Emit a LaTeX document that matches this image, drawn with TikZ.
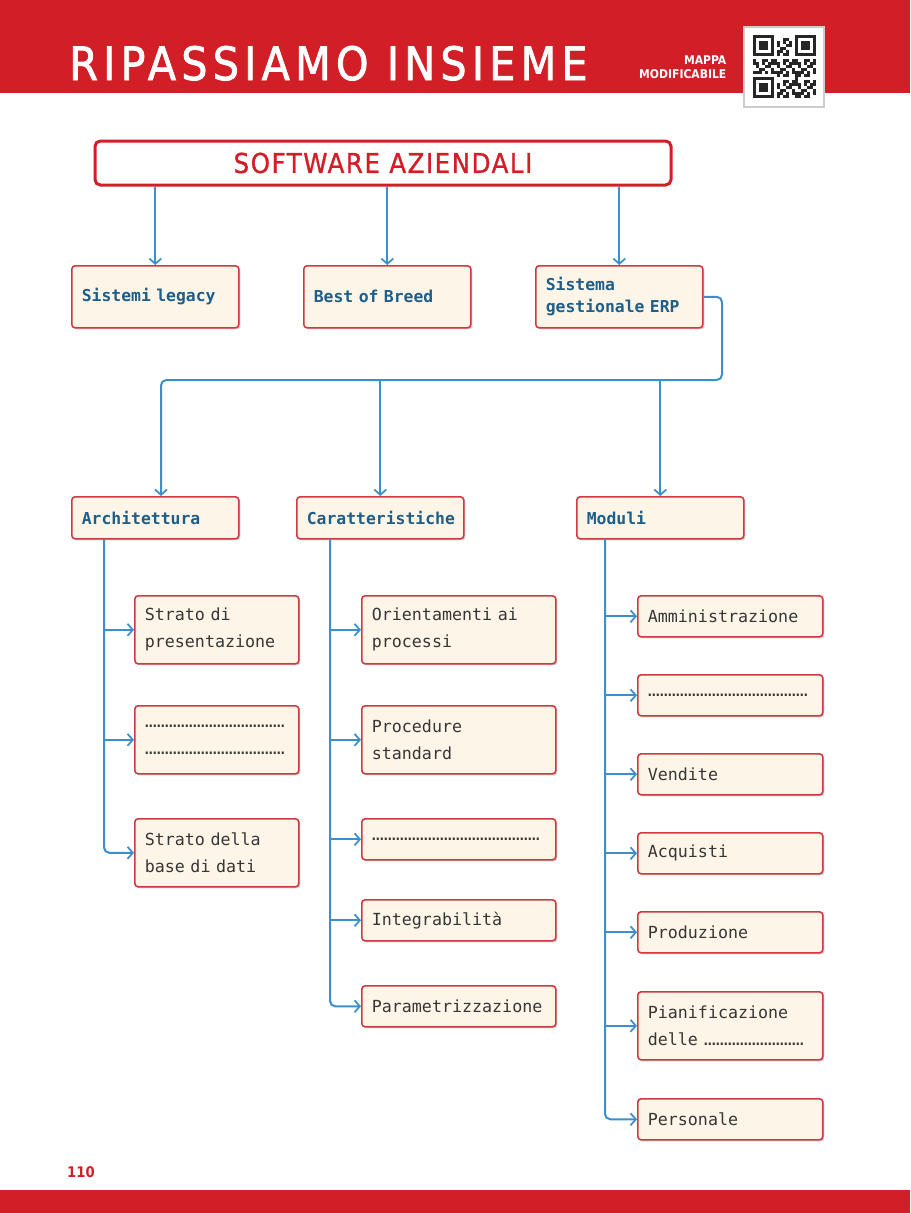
\documentclass[tikz,border=0pt]{standalone}
\usepackage{fontspec}
\setmainfont{DejaVu Sans Mono}
\newfontfamily\headfont[LetterSpace=11.3, FakeBold=1.6]{DejaVu Sans Condensed}
\newfontfamily\boxheadfont[LetterSpace=5.5, FakeBold=1]{DejaVu Sans Condensed}
\newfontfamily\tagfont{DejaVu Sans Condensed}
\usetikzlibrary{positioning,calc,arrows.meta,shadows}

\definecolor{bandred}{HTML}{D21F27}
\definecolor{boxred}{HTML}{CF3A42}
\definecolor{boxfill}{HTML}{FDF5E8}
\definecolor{linkblue}{HTML}{3B8FCC}
\definecolor{labelblue}{HTML}{1F5E88}
\definecolor{bodytext}{HTML}{363636}

\newcommand{\fillin}[1]{\leavevmode\leaders\hbox to 3pt{\hss.\hss}\hskip #1\kern0pt\relax}

\tikzset{
	conn/.style={draw=linkblue, line width=1.5pt, -{Straight Barb[length=4pt,width=9pt,line width=1.3pt]}},
	basebox/.style={draw=boxred, fill=boxfill, line width=1.2pt, rounded corners=2.5pt, anchor=north west, align=left, inner xsep=7.5pt, inner ysep=3pt,
		drop shadow={shadow xshift=1.2pt, shadow yshift=-1.2pt, fill=black, opacity=0.18}},
	topbox/.style={basebox, text width=110.25pt, minimum height=46.5pt, text=labelblue, font=\bfseries\fontsize{12.3}{16.5}\selectfont},
	groupbox/.style={basebox, text width=110.25pt, minimum height=31.5pt, text=labelblue, font=\bfseries\fontsize{12.3}{16.5}\selectfont},
	leafbox/.style={basebox, minimum height=30.75pt, text=bodytext, font=\fontsize{12.5}{20.25}\selectfont},
	archleaf/.style={leafbox, text width=108pt},
	caratleaf/.style={leafbox, text width=130.5pt},
	modleaf/.style={leafbox, text width=123.75pt},
	tall/.style={minimum height=51pt},
}

\begin{document}
\begin{tikzpicture}[x=0.75pt, y=-0.75pt]
	\useasboundingbox (0,0) rectangle (910,1213);
	\fill[white] (0,0) rectangle (910,1213);
	\fill[bandred] (0,0) rectangle (910,93);
	\fill[bandred] (0,1190) rectangle (910,1213);

	\node [text=white, anchor=base west, inner sep=0pt, font=\headfont\fontsize{34.5}{34.5}\selectfont] (title) at (69,80) {RIPASSIAMO INSIEME};
	\node [text=white, anchor=east, align=right, font=\tagfont\bfseries\fontsize{9}{10.5}\selectfont] (tag) at (731,67) {MAPPA\\MODIFICABILE};
	\node [draw=black!20, line width=1pt, fill=white, minimum size=60pt, inner sep=0pt] (qr) at (784,67) {};
	\foreach \i in {0,...,20}{
		\foreach \j in {0,...,20}{
			\pgfmathtruncatemacro\qv{(mod(\i*\i*3+\j*7+\i*\j*5+\j*\j*2,7)<3) && !((\i<8 && \j<8) || (\i>12 && \j<8) || (\i<8 && \j>12))}
			\ifnum\qv=1 \fill[black!85] (753+3*\i,35+3*\j) rectangle ++(3,3); \fi
		}
	}
	\foreach \cx/\cy in {753/35, 795/35, 753/77}{
		\fill[black!85] (\cx,\cy) rectangle ++(21,21);
		\fill[white] (\cx+3,\cy+3) rectangle ++(15,15);
		\fill[black!85] (\cx+6,\cy+6) rectangle ++(9,9);
	}
	\node [text=bandred, font=\tagfont\bfseries\fontsize{11}{11}\selectfont] (page) at (81,1172) {110};

	\node [draw=bandred, line width=2.25pt, fill=white, rounded corners=4pt, minimum width=432pt, minimum height=33pt, text=bandred, font=\boxheadfont\fontsize{20.5}{20.5}\selectfont] (main) at (383,163) {SOFTWARE AZIENDALI};

	\node [topbox] (legacy) at (71,265) {Sistemi legacy};
	\node [topbox, right=47.55pt of legacy] (best) {Best of Breed};
	\node [topbox, right=47.55pt of best] (erp) {Sistema\\gestionale ERP};

	\node [groupbox] (arch) at (71,496) {Architettura};
	\node [groupbox, right=42.3pt of arch] (carat) {Caratteristiche};
	\node [groupbox, right=83.55pt of carat] (mod) {Moduli};

	\node [archleaf, tall] (a1) at (134,595) {Strato di\\presentazione};
	\node [archleaf, tall, below=30.3pt of a1] (a2) {\fillin{106pt}\\\fillin{106pt}};
	\node [archleaf, tall, below=32.55pt of a2] (a3) {Strato della\\base di dati};

	\node [caratleaf, tall] (c1) at (361,595) {Orientamenti ai\\processi};
	\node [caratleaf, tall, below=30.3pt of c1] (c2) {Procedure\\standard};
	\node [caratleaf, below=32.55pt of c2] (c3) {\fillin{127pt}};
	\node [caratleaf, below=28.8pt of c3] (c4) {Integrabilità};
	\node [caratleaf, below=32.55pt of c4] (c5) {Parametrizzazione};

	\node [modleaf] (m1) at (637,595) {Amministrazione};
	\node [modleaf, below=27.3pt of m1] (m2) {\fillin{120pt}};
	\node [modleaf, below=27.3pt of m2] (m3) {Vendite};
	\node [modleaf, below=27.3pt of m3] (m4) {Acquisti};
	\node [modleaf, below=27.3pt of m4] (m5) {Produzione};
	\node [modleaf, tall, below=28.05pt of m5] (m6) {Pianificazione\\delle \fillin{78pt}};
	\node [modleaf, below=28.05pt of m6] (m7) {Personale};

	\foreach \n in {legacy,best,erp}
		\draw [conn] (main.south -| \n.north) -- (\n.north);

	\coordinate (busE) at (722,380);
	\coordinate (busW) at (161,380);
	\draw [conn, rounded corners=4pt] (erp.east) -| (busE) -- (busW) -- (busW |- arch.north);
	\draw [conn] (busW -| carat.north) -- (carat.north);
	\draw [conn] (busE -| mod.north) -- (mod.north);

	\coordinate (archTop) at ($(arch.south west)+(33,0)$);
	\coordinate (caratTop) at ($(carat.south west)+(34,0)$);
	\coordinate (modTop) at ($(mod.south west)+(29,0)$);

	\draw [conn, rounded corners=4pt] (archTop) |- (a3.west);
	\foreach \n in {a1,a2}
		\draw [conn] (archTop |- \n.west) -- (\n.west);

	\draw [conn, rounded corners=4pt] (caratTop) |- (c5.west);
	\foreach \n in {c1,c2,c3,c4}
		\draw [conn] (caratTop |- \n.west) -- (\n.west);

	\draw [conn, rounded corners=4pt] (modTop) |- (m7.west);
	\foreach \n in {m1,m2,m3,m4,m5,m6}
		\draw [conn] (modTop |- \n.west) -- (\n.west);
\end{tikzpicture}
\end{document}
